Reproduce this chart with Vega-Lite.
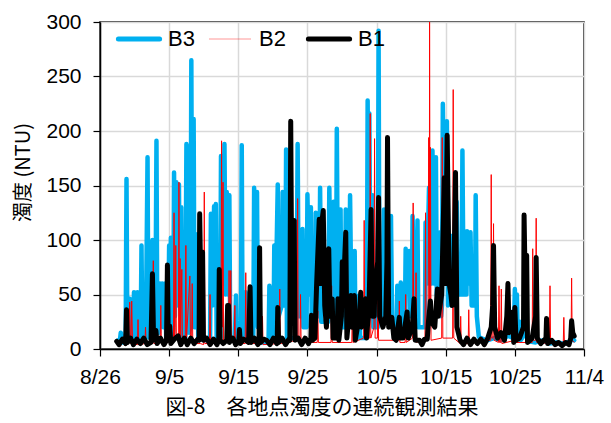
{
  "$schema": "https://vega.github.io/schema/vega-lite/v6.json",
  "width": 484,
  "height": 327,
  "autosize": {"type": "none"},
  "padding": {"left": 100, "top": 22, "right": 27, "bottom": 74},
  "background": "white",
  "config": {
    "view": {"stroke": "black", "strokeWidth": 1.5},
    "axis": {
      "labelFont": "Liberation Sans",
      "labelFontSize": 21,
      "labelColor": "black",
      "domainColor": "black",
      "domainWidth": 1.5,
      "tickColor": "black",
      "tickWidth": 1.2,
      "tickSize": 7,
      "gridColor": "#d9d9d9",
      "gridWidth": 1.5
    }
  },
  "title": {
    "text": "図-8　各地点濁度の連続観測結果",
    "orient": "bottom",
    "font": "Noto Sans CJK JP",
    "fontSize": 21,
    "fontWeight": "normal",
    "color": "black",
    "offset": 10,
    "dx": -20
  },
  "datasets": {
    "b3": [
      {"t":"8/28 14","v":8},{"t":"8/28 20","v":5},{"t":"8/29 00","v":15},{"t":"8/29 06","v":6},{"t":"8/29 17","v":6},{"t":"8/29 20","v":156},{"t":"8/29 23","v":8},
      {"t":"8/30 04","v":10},{"t":"8/30 07","v":46},{"t":"8/30 10","v":8},{"t":"8/30 19","v":9},{"t":"8/30 22","v":52},{"t":"8/31 02","v":12},{"t":"8/31 07","v":15},{"t":"8/31 10","v":52},{"t":"8/31 13","v":9},{"t":"8/31 21","v":9},
      {"t":"9/1 00","v":95},{"t":"9/1 03","v":10},{"t":"9/1 15","v":10},{"t":"9/1 21","v":176},{"t":"9/2 00","v":12},{"t":"9/2 06","v":10},{"t":"9/2 08","v":93},{"t":"9/2 11","v":40},{"t":"9/2 14","v":100},{"t":"9/2 17","v":12},
      {"t":"9/3 00","v":10},{"t":"9/3 04","v":191},{"t":"9/3 07","v":15},{"t":"9/3 13","v":15},{"t":"9/3 16","v":60},{"t":"9/3 20","v":25},{"t":"9/4 00","v":60},{"t":"9/4 04","v":20},{"t":"9/4 10","v":60},{"t":"9/4 14","v":8},{"t":"9/4 20","v":8},
      {"t":"9/5 00","v":95},{"t":"9/5 03","v":30},{"t":"9/5 06","v":102},{"t":"9/5 09","v":10},{"t":"9/5 14","v":10},{"t":"9/5 17","v":162},{"t":"9/5 20","v":30},{"t":"9/6 01","v":153},{"t":"9/6 04","v":40},{"t":"9/6 10","v":151},{"t":"9/6 13","v":50},{"t":"9/6 18","v":130},{"t":"9/6 21","v":10},
      {"t":"9/7 08","v":10},{"t":"9/7 12","v":188},{"t":"9/7 15","v":90},{"t":"9/7 18","v":186},{"t":"9/7 21","v":15},{"t":"9/8 02","v":20},{"t":"9/8 05","v":265},{"t":"9/8 08","v":40},{"t":"9/8 13","v":211},{"t":"9/8 16","v":20},{"t":"9/8 20","v":30},{"t":"9/8 23","v":105},{"t":"9/9 02","v":105},{"t":"9/9 05","v":10},
      {"t":"9/9 17","v":10},{"t":"9/9 20","v":49},{"t":"9/9 23","v":8},{"t":"9/10 22","v":8},{"t":"9/11 01","v":124},{"t":"9/11 06","v":40},{"t":"9/11 12","v":131},{"t":"9/11 15","v":70},{"t":"9/11 18","v":133},{"t":"9/11 21","v":10},
      {"t":"9/12 09","v":10},{"t":"9/12 12","v":177},{"t":"9/12 18","v":60},{"t":"9/13 00","v":188},{"t":"9/13 04","v":50},{"t":"9/13 08","v":144},{"t":"9/13 12","v":50},{"t":"9/13 17","v":141},{"t":"9/13 20","v":8},
      {"t":"9/14 12","v":8},{"t":"9/14 16","v":49},{"t":"9/14 19","v":8},{"t":"9/15 09","v":8},{"t":"9/15 12","v":187},{"t":"9/15 15","v":10},{"t":"9/16 00","v":10},{"t":"9/16 02","v":52},{"t":"9/16 06","v":10},{"t":"9/16 12","v":10},{"t":"9/16 14","v":45},{"t":"9/16 17","v":8},
      {"t":"9/17 04","v":8},{"t":"9/17 07","v":148},{"t":"9/17 12","v":60},{"t":"9/17 17","v":144},{"t":"9/17 20","v":20},{"t":"9/18 00","v":64},{"t":"9/18 03","v":6},{"t":"9/19 09","v":6},{"t":"9/19 12","v":58},{"t":"9/19 15","v":8},
      {"t":"9/20 02","v":8},{"t":"9/20 05","v":95},{"t":"9/20 09","v":30},{"t":"9/20 17","v":151},{"t":"9/20 20","v":30},{"t":"9/21 07","v":40},{"t":"9/21 10","v":144},{"t":"9/21 14","v":40},{"t":"9/21 19","v":40},{"t":"9/21 22","v":183},{"t":"9/22 01","v":10},
      {"t":"9/23 08","v":10},{"t":"9/23 11","v":60},{"t":"9/23 14","v":188},{"t":"9/23 18","v":30},{"t":"9/24 05","v":30},{"t":"9/24 07","v":110},{"t":"9/24 10","v":20},{"t":"9/24 21","v":20},
      {"t":"9/25 00","v":142},{"t":"9/25 06","v":50},{"t":"9/25 12","v":130},{"t":"9/25 15","v":20},{"t":"9/26 02","v":20},{"t":"9/26 05","v":125},{"t":"9/26 09","v":30},{"t":"9/26 17","v":30},{"t":"9/26 20","v":148},{"t":"9/27 00","v":25},
      {"t":"9/28 00","v":25},{"t":"9/28 04","v":148},{"t":"9/28 09","v":40},{"t":"9/28 19","v":135},{"t":"9/28 22","v":30},{"t":"9/29 03","v":30},{"t":"9/29 06","v":202},{"t":"9/29 10","v":40},{"t":"9/29 19","v":128},{"t":"9/29 22","v":20},
      {"t":"9/30 10","v":20},{"t":"9/30 13","v":128},{"t":"9/30 17","v":30},{"t":"10/1 01","v":30},{"t":"10/1 04","v":141},{"t":"10/1 09","v":30},{"t":"10/1 20","v":90},{"t":"10/1 23","v":10},
      {"t":"10/2 09","v":10},{"t":"10/2 12","v":49},{"t":"10/2 15","v":10},{"t":"10/3 14","v":10},{"t":"10/3 17","v":228},{"t":"10/3 20","v":100},{"t":"10/3 23","v":216},{"t":"10/4 03","v":30},{"t":"10/4 07","v":30},{"t":"10/4 10","v":141},{"t":"10/4 13","v":20},
      {"t":"10/5 04","v":20},{"t":"10/5 07","v":292},{"t":"10/5 10","v":30},{"t":"10/6 00","v":30},{"t":"10/6 02","v":128},{"t":"10/6 06","v":30},{"t":"10/7 00","v":30},{"t":"10/7 02","v":122},{"t":"10/7 06","v":20},
      {"t":"10/7 21","v":20},{"t":"10/8 00","v":58},{"t":"10/8 06","v":20},{"t":"10/8 09","v":20},{"t":"10/8 12","v":61},{"t":"10/8 16","v":20},{"t":"10/9 02","v":20},{"t":"10/9 05","v":92},{"t":"10/9 10","v":60},{"t":"10/9 17","v":90},{"t":"10/9 20","v":30},
      {"t":"10/10 02","v":30},{"t":"10/10 05","v":122},{"t":"10/10 10","v":50},{"t":"10/10 19","v":50},{"t":"10/10 22","v":118},{"t":"10/11 01","v":20},{"t":"10/12 00","v":20},{"t":"10/12 02","v":116},{"t":"10/12 07","v":60},{"t":"10/12 14","v":148},{"t":"10/12 17","v":60},
      {"t":"10/13 00","v":60},{"t":"10/13 02","v":182},{"t":"10/13 07","v":60},{"t":"10/13 14","v":176},{"t":"10/13 17","v":50},{"t":"10/14 02","v":40},{"t":"10/14 05","v":107},{"t":"10/14 08","v":30},{"t":"10/14 11","v":40},{"t":"10/14 14","v":225},{"t":"10/14 19","v":120},
      {"t":"10/15 04","v":209},{"t":"10/15 08","v":40},{"t":"10/15 17","v":104},{"t":"10/15 21","v":40},{"t":"10/16 11","v":40},{"t":"10/16 14","v":135},{"t":"10/16 18","v":50},{"t":"10/17 07","v":50},{"t":"10/17 10","v":182},{"t":"10/17 14","v":50},
      {"t":"10/18 00","v":50},{"t":"10/18 02","v":108},{"t":"10/18 08","v":60},{"t":"10/18 14","v":107},{"t":"10/18 18","v":40},{"t":"10/19 06","v":40},{"t":"10/19 08","v":141},{"t":"10/19 12","v":30},{"t":"10/19 19","v":11},
      {"t":"10/20 12","v":9},{"t":"10/21 00","v":8},{"t":"10/22 00","v":10},{"t":"10/23 00","v":8},{"t":"10/24 00","v":12},{"t":"10/24 20","v":10},{"t":"10/25 00","v":55},{"t":"10/25 04","v":15},{"t":"10/25 07","v":50},{"t":"10/25 10","v":10},{"t":"10/25 17","v":25},{"t":"10/25 20","v":8},
      {"t":"10/26 14","v":15},{"t":"10/27 00","v":7},{"t":"10/28 00","v":6},{"t":"10/29 00","v":8},{"t":"10/30 00","v":5},{"t":"10/31 00","v":6},{"t":"11/1 00","v":5},{"t":"11/2 00","v":7},{"t":"11/2 08","v":10},{"t":"11/2 14","v":8}
    ],
    "b2": [
      {"t":"8/28 12","v":5},{"t":"8/29 00","v":3},{"t":"8/29 12","v":12},{"t":"8/29 15","v":3},{"t":"8/30 04","v":5},{"t":"8/30 07","v":43},{"t":"8/30 10","v":5},{"t":"8/30 12","v":8},{"t":"8/30 14","v":44},{"t":"8/30 17","v":5},
      {"t":"8/31 10","v":4},{"t":"8/31 12","v":27},{"t":"8/31 14","v":4},{"t":"9/1 12","v":5},{"t":"9/1 14","v":20},{"t":"9/1 16","v":4},{"t":"9/2 14","v":6},{"t":"9/2 17","v":81},{"t":"9/2 19","v":5},
      {"t":"9/3 17","v":6},{"t":"9/3 19","v":40},{"t":"9/3 21","v":5},{"t":"9/4 10","v":4},{"t":"9/4 12","v":43},{"t":"9/4 14","v":5},{"t":"9/5 15","v":10},{"t":"9/5 17","v":125},{"t":"9/5 19","v":10},{"t":"9/5 21","v":20},{"t":"9/5 23","v":95},{"t":"9/6 01","v":10},
      {"t":"9/6 08","v":10},{"t":"9/6 10","v":153},{"t":"9/6 12","v":10},{"t":"9/6 14","v":83},{"t":"9/6 16","v":10},{"t":"9/6 20","v":73},{"t":"9/6 22","v":8},{"t":"9/7 08","v":8},{"t":"9/7 10","v":95},{"t":"9/7 12","v":8},
      {"t":"9/8 00","v":67},{"t":"9/8 02","v":8},{"t":"9/8 06","v":10},{"t":"9/8 08","v":60},{"t":"9/8 10","v":5},{"t":"9/9 12","v":5},{"t":"9/10 00","v":4},{"t":"9/10 02","v":144},{"t":"9/10 04","v":5},{"t":"9/10 20","v":5},{"t":"9/10 22","v":50},{"t":"9/11 00","v":4},
      {"t":"9/12 12","v":8},{"t":"9/12 14","v":191},{"t":"9/12 16","v":20},{"t":"9/12 19","v":153},{"t":"9/12 21","v":8},{"t":"9/13 14","v":10},{"t":"9/13 16","v":72},{"t":"9/13 18","v":10},{"t":"9/13 20","v":30},{"t":"9/13 22","v":72},{"t":"9/14 00","v":8},
      {"t":"9/14 10","v":6},{"t":"9/14 12","v":40},{"t":"9/14 14","v":5},{"t":"9/16 00","v":5},{"t":"9/16 02","v":70},{"t":"9/16 04","v":5},{"t":"9/16 15","v":6},{"t":"9/16 17","v":56},{"t":"9/16 19","v":5},
      {"t":"9/18 10","v":5},{"t":"9/18 12","v":30},{"t":"9/18 14","v":4},{"t":"9/20 22","v":5},{"t":"9/21 00","v":55},{"t":"9/21 02","v":5},{"t":"9/23 12","v":8},{"t":"9/23 14","v":138},{"t":"9/23 16","v":8},{"t":"9/23 22","v":8},{"t":"9/24 00","v":50},{"t":"9/24 02","v":6},
      {"t":"9/26 10","v":6},{"t":"9/26 12","v":35},{"t":"9/26 14","v":6},{"t":"9/28 10","v":6},{"t":"9/28 12","v":58},{"t":"9/28 14","v":6},{"t":"10/1 10","v":6},{"t":"10/1 12","v":40},{"t":"10/1 14","v":6},
      {"t":"10/3 03","v":10},{"t":"10/3 05","v":118},{"t":"10/3 07","v":10},{"t":"10/4 00","v":10},{"t":"10/4 02","v":216},{"t":"10/4 04","v":10},{"t":"10/4 15","v":20},{"t":"10/4 17","v":193},{"t":"10/4 19","v":10},{"t":"10/5 03","v":10},{"t":"10/5 05","v":90},{"t":"10/5 07","v":8},
      {"t":"10/8 05","v":8},{"t":"10/8 07","v":44},{"t":"10/8 09","v":6},{"t":"10/9 03","v":6},{"t":"10/9 05","v":50},{"t":"10/9 07","v":6},{"t":"10/10 05","v":10},{"t":"10/10 07","v":134},{"t":"10/10 09","v":10},{"t":"10/10 15","v":10},{"t":"10/10 17","v":70},{"t":"10/10 19","v":6},
      {"t":"10/12 00","v":10},{"t":"10/12 02","v":125},{"t":"10/12 04","v":10},{"t":"10/12 11","v":30},{"t":"10/12 13","v":194},{"t":"10/12 15","v":30},{"t":"10/12 16","v":300},{"t":"10/12 18","v":30},{"t":"10/12 19","v":185},{"t":"10/12 21","v":8},
      {"t":"10/14 10","v":10},{"t":"10/14 12","v":194},{"t":"10/14 14","v":10},{"t":"10/16 00","v":10},{"t":"10/16 02","v":238},{"t":"10/16 04","v":10},{"t":"10/17 02","v":5},{"t":"10/17 04","v":30},{"t":"10/17 06","v":5},{"t":"10/18 06","v":5},{"t":"10/18 08","v":36},{"t":"10/18 10","v":5},
      {"t":"10/21 12","v":8},{"t":"10/21 14","v":160},{"t":"10/21 16","v":10},{"t":"10/21 20","v":10},{"t":"10/21 22","v":115},{"t":"10/22 00","v":8},{"t":"10/22 15","v":6},{"t":"10/22 17","v":58},{"t":"10/22 19","v":6},{"t":"10/22 23","v":6},{"t":"10/23 01","v":55},{"t":"10/23 03","v":5},
      {"t":"10/25 00","v":8},{"t":"10/25 02","v":40},{"t":"10/25 04","v":6},{"t":"10/27 12","v":6},{"t":"10/27 14","v":92},{"t":"10/27 16","v":8},{"t":"10/28 00","v":8},{"t":"10/28 02","v":120},{"t":"10/28 04","v":6},
      {"t":"10/30 00","v":5},{"t":"10/30 02","v":58},{"t":"10/30 04","v":5},{"t":"11/1 00","v":5},{"t":"11/1 02","v":29},{"t":"11/1 04","v":5},{"t":"11/2 03","v":5},{"t":"11/2 05","v":65},{"t":"11/2 07","v":8},{"t":"11/2 14","v":6}
    ],
    "b1": [
      {"t":"8/28 10","v":7},{"t":"8/28 18","v":4},{"t":"8/29 06","v":9},{"t":"8/29 17","v":5},{"t":"8/29 20","v":36},{"t":"8/29 23","v":6},{"t":"8/30 10","v":10},{"t":"8/30 20","v":4},{"t":"8/31 08","v":9},{"t":"8/31 20","v":5},
      {"t":"9/1 08","v":10},{"t":"9/1 20","v":4},{"t":"9/2 09","v":6},{"t":"9/2 14","v":69},{"t":"9/2 18","v":8},{"t":"9/3 02","v":17},{"t":"9/3 06","v":5},{"t":"9/3 18","v":10},{"t":"9/4 06","v":4},{"t":"9/4 15","v":8},{"t":"9/4 18","v":77},{"t":"9/4 21","v":8},
      {"t":"9/5 02","v":21},{"t":"9/5 06","v":5},{"t":"9/5 18","v":9},{"t":"9/6 07","v":12},{"t":"9/6 16","v":4},{"t":"9/7 05","v":10},{"t":"9/7 15","v":4},{"t":"9/8 03","v":10},{"t":"9/8 15","v":5},{"t":"9/9 03","v":9},
      {"t":"9/9 08","v":8},{"t":"9/9 10","v":124},{"t":"9/9 15","v":40},{"t":"9/9 20","v":89},{"t":"9/9 23","v":8},{"t":"9/10 10","v":10},{"t":"9/10 22","v":4},{"t":"9/11 10","v":9},{"t":"9/11 22","v":4},
      {"t":"9/12 04","v":8},{"t":"9/12 06","v":73},{"t":"9/12 09","v":8},{"t":"9/12 20","v":5},{"t":"9/13 08","v":8},{"t":"9/13 11","v":40},{"t":"9/13 14","v":40},{"t":"9/13 17","v":6},{"t":"9/14 05","v":10},{"t":"9/14 15","v":4},
      {"t":"9/15 02","v":8},{"t":"9/15 04","v":18},{"t":"9/15 07","v":5},{"t":"9/15 18","v":9},{"t":"9/16 02","v":8},{"t":"9/16 12","v":6},{"t":"9/16 17","v":57},{"t":"9/16 20","v":6},{"t":"9/17 08","v":10},{"t":"9/17 20","v":4},
      {"t":"9/18 00","v":6},{"t":"9/18 02","v":93},{"t":"9/18 05","v":6},{"t":"9/18 16","v":9},{"t":"9/19 02","v":8},{"t":"9/19 14","v":4},{"t":"9/20 02","v":10},{"t":"9/20 14","v":5},{"t":"9/20 15","v":6},{"t":"9/20 17","v":38},{"t":"9/20 20","v":6},
      {"t":"9/21 08","v":10},{"t":"9/21 20","v":4},{"t":"9/22 08","v":9},{"t":"9/22 11","v":8},{"t":"9/22 14","v":209},{"t":"9/22 18","v":40},{"t":"9/23 02","v":118},{"t":"9/23 05","v":8},{"t":"9/23 16","v":10},{"t":"9/24 04","v":4},{"t":"9/24 16","v":10},
      {"t":"9/25 04","v":5},{"t":"9/25 12","v":10},{"t":"9/25 14","v":31},{"t":"9/25 17","v":8},{"t":"9/26 02","v":10},{"t":"9/26 08","v":60},{"t":"9/26 14","v":100},{"t":"9/26 17","v":119},{"t":"9/26 20","v":60},{"t":"9/26 23","v":110},{"t":"9/27 07","v":127},{"t":"9/27 12","v":40},{"t":"9/27 18","v":20},
      {"t":"9/28 02","v":92},{"t":"9/28 06","v":30},{"t":"9/28 14","v":46},{"t":"9/28 17","v":10},{"t":"9/29 07","v":10},{"t":"9/29 10","v":46},{"t":"9/29 13","v":8},{"t":"9/29 22","v":30},{"t":"9/30 01","v":80},{"t":"9/30 06","v":60},{"t":"9/30 13","v":107},{"t":"9/30 17","v":10},
      {"t":"10/1 03","v":40},{"t":"10/1 07","v":49},{"t":"10/1 10","v":20},{"t":"10/1 16","v":20},{"t":"10/1 19","v":49},{"t":"10/1 22","v":8},{"t":"10/2 12","v":30},{"t":"10/2 17","v":52},{"t":"10/2 20","v":20},{"t":"10/3 06","v":30},{"t":"10/3 10","v":46},{"t":"10/3 13","v":10},
      {"t":"10/3 22","v":40},{"t":"10/4 05","v":128},{"t":"10/4 09","v":30},{"t":"10/4 16","v":30},{"t":"10/4 18","v":60},{"t":"10/5 04","v":80},{"t":"10/5 07","v":139},{"t":"10/5 11","v":30},{"t":"10/5 22","v":20},{"t":"10/6 08","v":30},{"t":"10/6 12","v":80},{"t":"10/6 14","v":194},{"t":"10/6 18","v":20},
      {"t":"10/7 05","v":29},{"t":"10/7 12","v":10},{"t":"10/7 20","v":8},{"t":"10/8 07","v":29},{"t":"10/8 10","v":10},{"t":"10/8 20","v":10},{"t":"10/9 02","v":20},{"t":"10/9 10","v":34},{"t":"10/9 14","v":10},{"t":"10/10 04","v":20},{"t":"10/10 10","v":46},{"t":"10/10 14","v":8},
      {"t":"10/11 05","v":8},{"t":"10/11 14","v":4},{"t":"10/11 22","v":9},{"t":"10/12 08","v":9},{"t":"10/12 12","v":25},{"t":"10/12 19","v":44},{"t":"10/12 22","v":25},{"t":"10/13 10","v":20},{"t":"10/13 19","v":55},{"t":"10/13 22","v":30},
      {"t":"10/14 10","v":50},{"t":"10/14 19","v":157},{"t":"10/14 23","v":60},{"t":"10/15 05","v":196},{"t":"10/15 12","v":60},{"t":"10/15 18","v":50},{"t":"10/15 22","v":40},{"t":"10/16 04","v":60},{"t":"10/16 10","v":162},{"t":"10/16 15","v":20},
      {"t":"10/17 02","v":8},{"t":"10/17 14","v":4},{"t":"10/18 02","v":10},{"t":"10/18 14","v":4},{"t":"10/19 02","v":9},{"t":"10/19 14","v":5},{"t":"10/20 02","v":9},{"t":"10/20 14","v":4},{"t":"10/21 02","v":10},{"t":"10/21 14","v":20},{"t":"10/21 19","v":40},{"t":"10/21 22","v":95},
      {"t":"10/22 02","v":20},{"t":"10/22 12","v":10},{"t":"10/23 00","v":15},{"t":"10/23 12","v":8},{"t":"10/23 20","v":30},{"t":"10/24 00","v":60},{"t":"10/24 04","v":15},{"t":"10/24 17","v":34},{"t":"10/24 20","v":6},{"t":"10/25 00","v":38},{"t":"10/25 04","v":8},{"t":"10/25 16","v":10},
      {"t":"10/26 06","v":20},{"t":"10/26 08","v":123},{"t":"10/26 13","v":40},{"t":"10/26 17","v":86},{"t":"10/26 20","v":6},{"t":"10/27 12","v":10},{"t":"10/28 00","v":30},{"t":"10/28 02","v":84},{"t":"10/28 06","v":10},{"t":"10/28 18","v":5},
      {"t":"10/29 12","v":10},{"t":"10/29 14","v":28},{"t":"10/29 18","v":5},{"t":"10/30 08","v":8},{"t":"10/30 20","v":4},{"t":"10/31 08","v":6},{"t":"10/31 20","v":3},{"t":"11/1 08","v":6},{"t":"11/1 20","v":4},{"t":"11/2 02","v":10},{"t":"11/2 05","v":26},{"t":"11/2 09","v":15},{"t":"11/2 14","v":12}
    ]
  },
  "encoding": {
    "x": {
      "field": "t",
      "type": "temporal",
      "scale": {"domain": [{"year": 1900, "month": 8, "date": 26}, {"year": 1900, "month": 11, "date": 4}]},
      "axis": {
        "title": null,
        "format": "%-m/%-d",
        "values": [
          {"year": 1900, "month": 8, "date": 26},
          {"year": 1900, "month": 9, "date": 5},
          {"year": 1900, "month": 9, "date": 15},
          {"year": 1900, "month": 9, "date": 25},
          {"year": 1900, "month": 10, "date": 5},
          {"year": 1900, "month": 10, "date": 15},
          {"year": 1900, "month": 10, "date": 25},
          {"year": 1900, "month": 11, "date": 4}
        ],
        "labelPadding": 10,
        "labelOverlap": false,
        "labelFlush": false
      }
    },
    "y": {
      "field": "v",
      "type": "quantitative",
      "scale": {"domain": [0, 300], "nice": false},
      "axis": {
        "title": "濁度 (NTU)",
        "titleFont": "Noto Sans CJK JP",
        "titleFontSize": 20,
        "titleFontWeight": "normal",
        "titleColor": "black",
        "titleAngle": -90,
        "titleX": -77,
        "titleY": 150,
        "titleAlign": "center",
        "titleBaseline": "middle",
        "values": [0, 50, 100, 150, 200, 250, 300],
        "labelPadding": 12
      }
    }
  },
  "layer": [
    {
      "data": {"name": "b3", "format": {"parse": {"t": "date:'%m/%d %H'"}}},
      "mark": {"type": "line", "strokeWidth": 4.5, "strokeCap": "round", "strokeJoin": "round", "clip": true},
      "encoding": {
        "color": {
          "datum": "B3",
          "type": "nominal",
          "scale": {"domain": ["B3", "B2", "B1"], "range": ["#00b0f0", "#ff0000", "#000000"]},
          "legend": {
            "title": null,
            "orient": "none",
            "legendX": 28,
            "legendY": 6,
            "direction": "horizontal",
            "gridAlign": "none",
            "symbolType": "stroke",
            "symbolSize": 1700,
            "symbolStrokeWidth": 5,
            "labelFont": "Liberation Sans",
            "labelFontSize": 22,
            "labelColor": "black",
            "labelOffset": 18,
            "columnPadding": 12,
            "encode": {"symbols": {"update": {"strokeWidth": {"signal": "datum.value === 'B2' ? 1 : 5"}, "strokeCap": {"value": "round"}, "opacity": {"signal": "datum.value === 'B2' ? 0.4 : 1"}}}}
          }
        }
      }
    },
    {
      "data": {"name": "b2", "format": {"parse": {"t": "date:'%m/%d %H'"}}},
      "mark": {"type": "line", "strokeWidth": 1, "clip": true},
      "encoding": {"color": {"datum": "B2", "type": "nominal"}}
    },
    {
      "data": {"name": "b1", "format": {"parse": {"t": "date:'%m/%d %H'"}}},
      "mark": {"type": "line", "strokeWidth": 5, "strokeCap": "round", "strokeJoin": "round", "clip": true},
      "encoding": {"color": {"datum": "B1", "type": "nominal"}}
    }
  ]
}
